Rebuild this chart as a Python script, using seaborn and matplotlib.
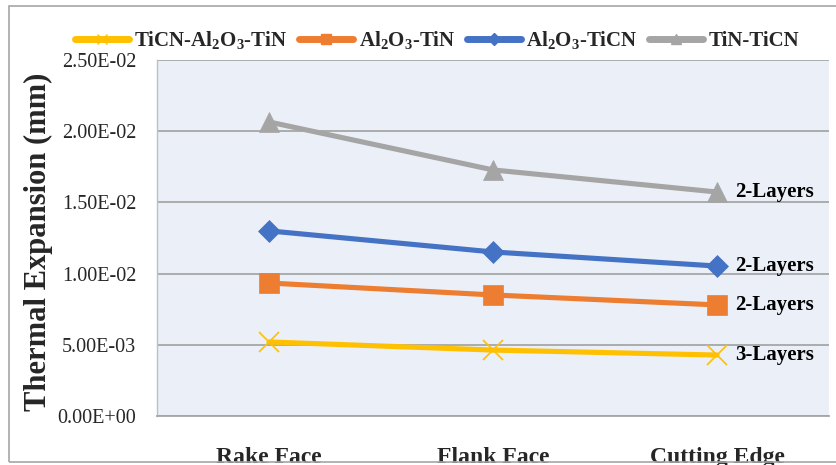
import matplotlib
matplotlib.use("Agg")
import matplotlib.pyplot as plt
from matplotlib.patches import Rectangle
import seaborn as sns
import pandas as pd

positions = ["Rake Face", "Flank Face", "Cutting Edge"]
coating_names = [
    "TiCN-Al$_2$O$_3$-TiN",
    "Al$_2$O$_3$-TiN",
    "Al$_2$O$_3$-TiCN",
    "TiN-TiCN",
]
ticn_al2o3_tin = [0.00520, 0.00463, 0.00428]
al2o3_tin = [0.00934, 0.00850, 0.00780]
al2o3_ticn = [0.01300, 0.01152, 0.01053]
tin_ticn = [0.02065, 0.01728, 0.01573]
layer_labels = ["3-Layers", "2-Layers", "2-Layers", "2-Layers"]
y_ticks = [0.0, 0.005, 0.010, 0.015, 0.020, 0.025]
y_tick_labels = ["0.00E+00", "5.00E-03", "1.00E-02", "1.50E-02", "2.00E-02", "2.50E-02"]

series = [ticn_al2o3_tin, al2o3_tin, al2o3_ticn, tin_ticn]
colors = ["#FFC000", "#ED7D31", "#4472C4", "#A5A5A5"]
markers = ["x", "s", "D", "^"]
marker_sizes = [14, 14, 11, 14]

rows = []
for name, vals in zip(coating_names, series):
    for pos, v in zip(positions, vals):
        rows.append({"Position": pos, "Expansion": v, "Coating": name})
df = pd.DataFrame(rows)

sns.set_theme(style="white")
plt.rcParams["font.family"] = ["Liberation Serif", "DejaVu Serif"]
plt.rcParams["mathtext.fontset"] = "custom"
plt.rcParams["mathtext.rm"] = "Liberation Serif:bold"
plt.rcParams["mathtext.it"] = "Liberation Serif:bold"
plt.rcParams["mathtext.bf"] = "Liberation Serif:bold"
plt.rcParams["mathtext.default"] = "rm"

fig = plt.figure(figsize=(8.37, 4.65), dpi=100)
ax = fig.add_axes([157 / 837, 1 - 416 / 465, (829 - 157) / 837, (416 - 60) / 465])
ax.set_facecolor("#EAEFF8")

for name, col, mk, ms in zip(coating_names, colors, markers, marker_sizes):
    sub = df[df["Coating"] == name]
    sns.lineplot(
        data=sub, x="Position", y="Expansion", ax=ax, color=col,
        marker=mk, markersize=ms, linewidth=3.7, label=name,
        markeredgecolor=col, markeredgewidth=1.2 if mk == "x" else 0.5,
        sort=False, legend=False,
    )

for vals, lab in zip(series, layer_labels):
    ax.text(2.08, vals[-1], lab, ha="left", va="center", fontsize=15,
            fontweight="bold", color="black")

ax.set_xlim(-0.5, 2.5)
ax.set_ylim(0, 0.025)
ax.set_yticks(y_ticks)
ax.set_yticklabels(y_tick_labels, fontsize=14.5)
ax.set_xticks(range(len(positions)))
ax.set_xticklabels(positions, fontsize=17, fontweight="bold")
ax.tick_params(axis="y", length=0, pad=15)
ax.tick_params(axis="x", length=0, pad=22)
ax.yaxis.grid(True, color="#A6A6A6", linewidth=1.3)
ax.set_axisbelow(True)
for s in ["top", "right"]:
    ax.spines[s].set_visible(False)
ax.spines["left"].set_color("#BFBFBF")
ax.spines["left"].set_linewidth(1.0)
ax.spines["bottom"].set_color("#A6A6A6")
ax.spines["bottom"].set_linewidth(1.3)
ax.set_xlabel("")
ax.set_ylabel("Thermal Expansion (mm)", fontsize=22, fontweight="bold")
ax.yaxis.set_label_coords(-(157 - 53) / 672, 0.49)

handles = [
    plt.Line2D([], [], color=c, marker=m, markersize=ms * 0.55, linewidth=5,
               markeredgecolor=c)
    for c, m, ms in zip(colors, markers, marker_sizes)
]
fig.legend(handles, coating_names, loc="center", ncol=4,
           bbox_to_anchor=(437 / 837, 1 - 40 / 465), frameon=False,
           prop={"weight": "bold", "size": 15}, handlelength=2.6,
           handletextpad=0.25, columnspacing=0.55)

fig.patches.append(Rectangle((9 / 837, 1 - 462 / 465), 2, (462 - 6) / 465,
                             transform=fig.transFigure, fill=False,
                             edgecolor="#A6A6A6", linewidth=1.2))

fig.savefig("out.png", dpi=100)
